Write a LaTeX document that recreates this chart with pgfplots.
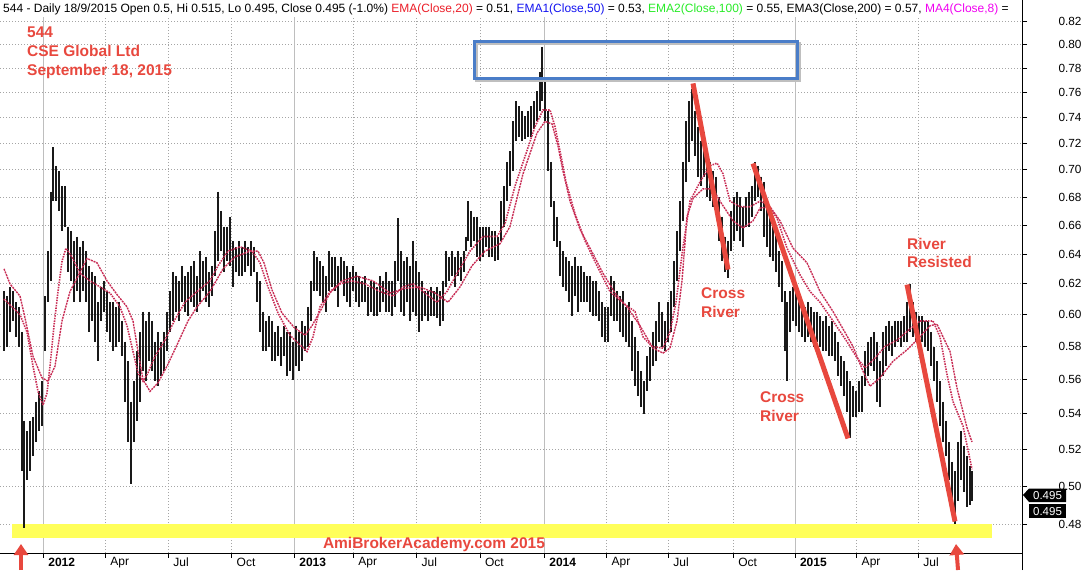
\documentclass[border=0pt]{standalone}
\usepackage{fontspec}
\setmainfont{Liberation Sans}
\usepackage{pgfplots}
\usepackage{pgfplotstable}
\pgfplotsset{compat=1.18}
\usetikzlibrary{arrows.meta}
\definecolor{emared}{RGB}{200,45,85}
\definecolor{annred}{RGB}{232,72,62}
\definecolor{boxblue}{RGB}{74,125,200}
\definecolor{hlyellow}{RGB}{255,255,90}
\definecolor{gridgray}{RGB}{165,165,165}
\definecolor{yeargray}{RGB}{190,190,190}
\definecolor{hred}{RGB}{235,30,40}
\definecolor{hblue}{RGB}{20,20,240}
\definecolor{hgreen}{RGB}{40,235,40}
\definecolor{hmag}{RGB}{240,0,240}
\pgfplotstableread{
x hi lo
4 .615 .577
7 .612 .580
10 .618 .589
13 .615 .596
16 .608 .586
19 .605 .580
22 .589 .508
24 .536 .478
27 .530 .503
30 .536 .508
33 .538 .516
36 .547 .524
39 .553 .530
42 .559 .533
45 .612 .577
48 .642 .608
51 .684 .622
53 .717 .677
56 .703 .677
59 .699 .670
62 .688 .656
65 .688 .659
68 .659 .628
71 .656 .622
74 .649 .608
77 .652 .615
80 .645 .608
83 .649 .615
86 .642 .608
89 .632 .589
92 .628 .596
95 .625 .583
98 .608 .571
101 .618 .596
104 .622 .602
107 .615 .589
110 .608 .583
113 .608 .577
116 .605 .580
119 .608 .583
122 .596 .574
125 .583 .547
128 .571 .524
131 .547 .501
134 .559 .524
137 .577 .536
140 .589 .547
143 .602 .565
146 .596 .559
149 .602 .571
152 .596 .565
155 .583 .559
158 .589 .556
161 .583 .562
164 .589 .565
167 .602 .577
170 .615 .589
173 .628 .596
176 .625 .602
179 .622 .596
182 .632 .608
185 .625 .602
188 .628 .599
191 .632 .608
194 .635 .605
197 .625 .602
200 .642 .608
203 .635 .615
206 .638 .608
209 .628 .605
212 .632 .612
215 .656 .625
218 .684 .635
221 .670 .642
224 .659 .628
227 .659 .635
230 .666 .632
233 .649 .618
236 .645 .628
239 .649 .625
242 .645 .625
245 .649 .628
248 .645 .632
251 .649 .625
254 .645 .628
257 .628 .608
260 .622 .589
263 .602 .577
266 .596 .577
269 .599 .580
272 .596 .571
275 .589 .571
278 .593 .574
281 .586 .568
284 .593 .574
287 .589 .562
290 .589 .565
293 .583 .560
296 .593 .568
299 .589 .565
302 .596 .571
305 .593 .577
308 .605 .580
311 .622 .596
314 .642 .615
317 .638 .615
320 .635 .612
323 .632 .608
326 .625 .602
329 .642 .615
332 .638 .618
335 .638 .615
338 .632 .605
341 .638 .622
344 .635 .612
347 .632 .608
350 .628 .605
353 .632 .615
356 .628 .608
359 .625 .605
362 .622 .608
365 .625 .608
368 .618 .599
371 .622 .602
374 .622 .599
377 .618 .599
380 .625 .602
383 .622 .608
386 .628 .602
389 .622 .602
392 .622 .599
395 .635 .605
398 .665 .622
401 .642 .602
404 .635 .599
407 .638 .608
410 .632 .596
413 .649 .602
416 .635 .599
419 .628 .589
422 .622 .596
425 .615 .599
428 .615 .596
431 .618 .599
434 .615 .599
437 .618 .598
440 .615 .593
443 .622 .596
446 .642 .618
449 .638 .622
452 .642 .625
455 .638 .618
458 .642 .625
461 .638 .622
464 .642 .628
466 .652 .642
468 .677 .649
471 .670 .645
474 .666 .649
477 .666 .638
480 .659 .635
483 .659 .638
486 .659 .645
489 .659 .638
492 .656 .638
495 .656 .635
498 .652 .636
501 .677 .649
504 .688 .659
507 .706 .677
510 .714 .688
513 .737 .699
516 .753 .722
519 .749 .725
522 .745 .722
525 .741 .723
528 .745 .725
531 .749 .725
534 .753 .731
537 .761 .737
540 .777 .745
542 .798 .753
545 .769 .737
548 .745 .699
551 .706 .673
554 .677 .649
557 .666 .645
560 .649 .625
563 .642 .618
566 .638 .615
569 .635 .608
572 .632 .599
575 .638 .612
578 .632 .602
581 .632 .608
584 .628 .608
587 .625 .608
590 .625 .602
593 .622 .599
596 .622 .599
599 .615 .596
602 .608 .586
605 .605 .583
608 .605 .583
611 .625 .599
614 .622 .596
617 .615 .596
620 .612 .589
623 .615 .586
626 .605 .583
629 .608 .580
632 .596 .565
635 .586 .556
638 .577 .550
641 .565 .544
644 .559 .540
647 .574 .553
650 .580 .559
653 .589 .568
656 .596 .571
659 .608 .583
662 .602 .580
665 .596 .577
668 .608 .583
671 .615 .589
674 .635 .605
677 .656 .622
680 .677 .642
683 .706 .663
686 .737 .691
689 .753 .706
692 .763 .722
695 .745 .710
698 .733 .695
701 .722 .688
704 .729 .695
707 .714 .680
710 .706 .677
713 .699 .673
716 .695 .670
719 .680 .649
722 .666 .635
725 .652 .628
728 .649 .624
731 .670 .642
734 .680 .649
737 .684 .656
740 .680 .649
743 .673 .645
746 .680 .659
749 .684 .659
752 .688 .666
755 .706 .677
758 .703 .680
761 .695 .670
764 .691 .652
767 .677 .645
770 .666 .638
773 .659 .635
776 .656 .628
779 .642 .618
782 .635 .608
785 .615 .577
787 .608 .559
790 .615 .589
793 .618 .596
796 .615 .593
799 .612 .589
802 .608 .586
805 .605 .583
808 .608 .586
811 .605 .583
814 .602 .580
817 .602 .583
820 .599 .580
823 .596 .577
826 .599 .577
829 .593 .574
832 .596 .574
835 .589 .571
838 .583 .562
841 .574 .556
844 .571 .550
847 .565 .541
850 .559 .526
853 .556 .538
856 .553 .538
859 .559 .541
862 .562 .541
865 .577 .556
868 .583 .562
871 .586 .568
874 .589 .565
877 .583 .547
880 .571 .544
883 .589 .562
886 .593 .568
889 .596 .577
892 .593 .574
895 .596 .580
898 .596 .583
901 .596 .580
904 .599 .583
907 .608 .583
910 .620 .589
913 .608 .586
916 .602 .583
919 .599 .580
922 .599 .583
925 .596 .580
928 .596 .577
931 .589 .568
934 .580 .559
937 .571 .547
940 .559 .533
943 .547 .524
946 .536 .516
949 .524 .503
952 .513 .487
955 .508 .480
958 .524 .492
961 .530 .503
964 .522 .497
967 .516 .489
970 .511 .490
972 .508 .492
}\bars
\begin{document}
\begin{tikzpicture}
\path[use as bounding box] (0pt,0pt) rectangle (1083pt,570pt);
\begin{axis}[
  at={(0pt,17pt)}, anchor=south west, scale only axis,
  width=1022pt, height=536pt,
  xmin=0, xmax=1022,
  ymode=log, ymin=0.46562, ymax=0.8235,
  disabledatascaling,
  axis x line*=bottom, axis y line*=right,
  axis line style={-, black, line width=1pt},
  tick align=outside, major tick length=5pt,
  tick style={black, line width=0.8pt},
  ytick={0.48,0.50,0.52,0.54,0.56,0.58,0.60,0.62,0.64,0.66,0.68,0.70,0.72,0.74,0.76,0.78,0.80,0.82},
  yticklabels={0.48,0.50,0.52,0.54,0.56,0.58,0.60,0.62,0.64,0.66,0.68,0.70,0.72,0.74,0.76,0.78,0.80,0.82},
  yticklabel style={anchor=west, font=\fontsize{11.8}{12}\selectfont, xshift=28pt},
  xtick={105.3,168.3,231.7,353.3,416.7,480,606.7,668.3,733.3,856.7,918.3},
  xticklabels={Apr,Jul,Oct,Apr,Jul,Oct,Apr,Jul,Oct,Apr,Jul},
  extra x ticks={43.3,294.3,544.3,795},
  extra x tick labels={\textbf{2012},\textbf{2013},\textbf{2014},\textbf{2015}},
  extra x tick style={grid=major, major grid style={solid, yeargray, line width=0.9pt}},
  xticklabel style={anchor=west, font=\fontsize{12}{12}\selectfont, yshift=-4.5pt, xshift=1.5pt},
  grid=major,
  major grid style={gridgray, line width=0.8pt, dash pattern=on 0.9pt off 2.1pt},
]
% yellow highlight band
\addplot[draw=none, fill=hlyellow] coordinates {(12,0.4731) (992,0.4731) (992,0.4802) (12,0.4802)} -- cycle;
% daily price ranges (high-low), one segment per bar
\pgfplotstablegetrowsof{\bars}
\pgfmathtruncatemacro{\nbars}{\pgfplotsretval-1}
\pgfplotsinvokeforeach{0,...,\nbars}{
  \pgfplotstablegetelem{#1}{x}\of\bars \let\bx\pgfplotsretval
  \pgfplotstablegetelem{#1}{hi}\of\bars \let\bh\pgfplotsretval
  \pgfplotstablegetelem{#1}{lo}\of\bars \let\bl\pgfplotsretval
  \addplot[black!90, line width=2.6pt, line cap=butt, forget plot] coordinates {(\bx,\bh) (\bx,\bl)};
}
% EMA (fast)
\addplot[emared, line width=1.6pt, dash pattern=on 1.5pt off 1.1pt] coordinates {
(4,.610)(12,.605)(20,.600)(27,.589)(33,.568)(38,.553)(43,.545)(47,.552)(50,.568)(54,.593)(58,.615)(62,.635)(66,.644)
(72,.638)(80,.627)(90,.622)(100,.618)(110,.614)(120,.605)(127,.593)(133,.577)(138,.564)(143,.559)(148,.564)(155,.574)
(165,.584)(175,.597)(185,.608)(197,.615)(210,.622)(218,.632)(228,.642)(240,.645)(252,.642)(260,.634)(268,.618)(278,.601)
(290,.587)(300,.581)(307,.577)(313,.586)(320,.605)(330,.615)(340,.620)(352,.622)(365,.620)(380,.615)(393,.612)(403,.618)
(413,.620)(425,.614)(437,.608)(447,.615)(458,.628)(470,.642)(483,.652)(497,.652)(505,.661)(515,.688)(525,.710)(535,.733)
(543,.746)(550,.746)(555,.733)(560,.714)(566,.691)(575,.668)(585,.649)(597,.632)(610,.615)(622,.608)(635,.602)(643,.586)
(652,.580)(663,.579)(670,.589)(676,.608)(683,.645)(690,.677)(700,.691)(710,.703)(717,.705)(723,.697)(730,.677)(740,.673)
(750,.673)(760,.677)(767,.675)(777,.665)(787,.644)(800,.626)(810,.615)(820,.608)(833,.596)(847,.583)(857,.573)(865,.567)
(875,.573)(885,.580)(897,.584)(910,.591)(920,.596)(933,.596)(940,.586)(947,.563)(953,.547)(963,.533)(972,.509)
};
% EMA (slow)
\addplot[emared, line width=1.4pt, dash pattern=on 2pt off 0.9pt] coordinates {
(4,.630)(10,.620)(20,.612)(25,.598)(33,.574)(42,.561)(48,.559)(55,.568)(62,.596)(70,.615)(78,.625)(87,.637)(97,.634)
(107,.622)(117,.613)(127,.605)(133,.596)(138,.577)(143,.560)(150,.553)(158,.558)(167,.568)(177,.581)(188,.596)(197,.605)
(210,.615)(223,.630)(235,.638)(250,.642)(258,.642)(264,.634)(272,.616)(282,.601)(294,.592)(305,.587)(312,.593)(320,.602)
(330,.614)(342,.622)(357,.625)(373,.622)(390,.614)(405,.617)(420,.618)(435,.614)(448,.608)(460,.618)(472,.632)(485,.642)
(500,.647)(510,.659)(523,.697)(537,.728)(545,.737)(552,.735)(558,.718)(563,.699)(570,.677)(580,.657)(590,.644)(603,.627)
(615,.614)(627,.605)(640,.593)(653,.579)(663,.576)(670,.579)(677,.596)(682,.622)(687,.666)(693,.679)(703,.686)(713,.686)
(720,.677)(733,.663)(743,.658)(753,.663)(760,.672)(770,.673)(780,.663)(793,.644)(807,.634)(820,.615)(833,.602)(843,.591)
(853,.580)(863,.565)(870,.556)(880,.561)(893,.571)(907,.578)(920,.586)(930,.593)(937,.594)(943,.586)(950,.577)(957,.555)
(967,.532)(972,.524)
};
% trend lines
\addplot[annred, line width=5pt] coordinates {(693,.7674) (728,.6295)};
\addplot[annred, line width=5pt] coordinates {(753,.7047) (848,.5260)};
\addplot[annred, line width=5pt] coordinates {(907,.6195) (955,.4815)};
% blue box with shadow
\addplot[black!25, line width=3pt] coordinates {(476,.7700) (799,.7700) (799,.8010) (476,.8010)} -- cycle;
\addplot[boxblue, line width=3pt] coordinates {(474,.7715) (797,.7715) (797,.8023) (474,.8023)} -- cycle;
\end{axis}
% right axis full-height line
\draw[black, line width=1pt] (1022pt,0pt) -- (1022pt,570pt);
% header
\node[anchor=base west, inner sep=0, font=\fontsize{12}{13}\selectfont] at (3pt,557pt)
 {544 - Daily 18/9/2015 Open 0.5, Hi 0.515, Lo 0.495, Close 0.495 (-1.0\%) \textcolor{hred}{EMA(Close,20)} = 0.51, \textcolor{hblue}{EMA1(Close,50)} = 0.53, \textcolor{hgreen}{EMA2(Close,100)} = 0.55, EMA3(Close,200) = 0.57, \textcolor{hmag}{MA4(Close,8)} =};
% title block
\node[anchor=base west, inner sep=0, text=annred, font=\bfseries\fontsize{15.5}{18}\selectfont] at (27pt,532.5pt) {544};
\node[anchor=base west, inner sep=0, text=annred, font=\bfseries\fontsize{15.5}{18}\selectfont] at (27pt,513.5pt) {CSE Global Ltd};
\node[anchor=base west, inner sep=0, text=annred, font=\bfseries\fontsize{15.5}{18}\selectfont] at (27pt,494.5pt) {September 18, 2015};
% annotations
\node[anchor=base west, inner sep=0, text=annred, font=\bfseries\fontsize{15.5}{18}\selectfont] at (701pt,271pt) {Cross};
\node[anchor=base west, inner sep=0, text=annred, font=\bfseries\fontsize{15.5}{18}\selectfont] at (701pt,252pt) {River};
\node[anchor=base west, inner sep=0, text=annred, font=\bfseries\fontsize{15.5}{18}\selectfont] at (760pt,167pt) {Cross};
\node[anchor=base west, inner sep=0, text=annred, font=\bfseries\fontsize{15.5}{18}\selectfont] at (760pt,148.5pt) {River};
\node[anchor=base west, inner sep=0, text=annred, font=\bfseries\fontsize{15.5}{18}\selectfont] at (907pt,320pt) {River};
\node[anchor=base west, inner sep=0, text=annred, font=\bfseries\fontsize{15.5}{18}\selectfont] at (907pt,302pt) {Resisted};
\node[anchor=base, inner sep=0, text=annred, font=\bfseries\fontsize{15.5}{18}\selectfont] at (434pt,21.5pt) {AmiBrokerAcademy.com 2015};
% arrows
\draw[annred, line width=4pt, -{Triangle[length=11pt,width=14pt]}] (21pt,0pt) -- (21pt,26pt);
\draw[annred, line width=4pt, -{Triangle[length=11pt,width=14pt]}] (958pt,0pt) -- (956pt,26pt);
% price labels
\fill[black] (1023pt,75pt) -- (1029pt,81.5pt) -- (1066pt,81.5pt) -- (1066pt,68pt) -- (1029pt,68pt) -- cycle;
\node[text=white, font=\fontsize{11.5}{12}\selectfont, inner sep=0] at (1047.5pt,74.7pt) {0.495};
\fill[black] (1029pt,52pt) rectangle (1066pt,66pt);
\node[text=white, font=\fontsize{11.5}{12}\selectfont, inner sep=0] at (1047.5pt,58.7pt) {0.495};
\end{tikzpicture}
\end{document}
